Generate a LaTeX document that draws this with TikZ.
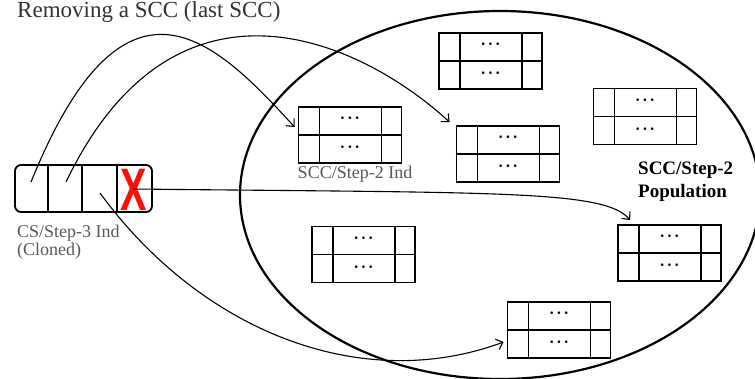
\documentclass[tikz,border=0pt]{standalone}
\usepackage{fontspec}
\setmainfont{Liberation Serif}
\newfontfamily\xfont{Liberation Sans}
\usetikzlibrary{calc,arrows.meta}
\newcommand\recbox[2]{%
  \node[rec] (#1) at (#2) {};
  \draw[divider] ([xshift=22pt]#1.north west) -- ([xshift=22pt]#1.south west);
  \draw[divider] ([xshift=-21pt]#1.north east) -- ([xshift=-21pt]#1.south east);
  \draw[divider] (#1.west) -- (#1.east);
  \node[dots] (#1-t) at ($(#1.north)!.5!(#1.center)$) {·\kern2pt·\kern2pt·};
  \node[dots] (#1-b) at ($(#1.south)!.5!(#1.center)$) {·\kern2pt·\kern2pt·};
}
\begin{document}
\begin{tikzpicture}[x=1pt,y=-1pt,
  rec/.style={draw, line width=1.8pt, minimum width=103pt, minimum height=56pt, inner sep=0pt},
  divider/.style={line width=1.6pt},
  dots/.style={font=\fontsize{16}{16}\selectfont\bfseries, inner sep=0pt},
  lbl/.style={font=\fontsize{18}{18}\selectfont, text=black!65, inner sep=0pt, anchor=base west},
  conn/.style={line width=1.1pt, -{Straight Barb[length=6pt,width=11pt,line width=1.1pt]}},
]
\useasboundingbox (0,0) rectangle (755,378);
\fill[white] (0,0) rectangle (755,378);

% title
\node[lbl, font=\fontsize{23}{23}\selectfont, text=black!80] (title) at (17,17) {Removing a SCC (last SCC)};

% population ellipse
\draw[line width=2.2pt] (500,195) ellipse [x radius=260pt, y radius=184pt];

% records
\recbox{A}{350,135}
\recbox{B}{508,154}
\recbox{C}{490.5,61}
\recbox{D}{645,116.5}
\recbox{E}{669.5,253}
\recbox{F}{363.5,254.5}
\recbox{G}{559,330}

\node[lbl, anchor=base] (alabel) at (355,178) {SCC/Step-2 Ind};
\node[lbl, anchor=base west, text=black, font=\fontsize{19}{19}\selectfont\bfseries] (pop1) at (638,174) {SCC/Step-2};
\node[lbl, anchor=base west, text=black, font=\fontsize{19}{19}\selectfont\bfseries] (pop2) at (638,197) {Population};

% cloned individual
\node[draw, line width=1.8pt, rounded corners=6pt, minimum width=137pt, minimum height=47pt, inner sep=0pt] (cs) at (83.5,188.5) {};
\draw[divider] ([xshift=34pt]cs.north west) -- ([xshift=34pt]cs.south west);
\draw[divider] ([xshift=68pt]cs.north west) -- ([xshift=68pt]cs.south west);
\draw[divider] ([xshift=103pt]cs.north west) -- ([xshift=103pt]cs.south west);
\node[inner sep=0pt, text=red!90!orange, font=\xfont\bfseries\fontsize{60}{60}\selectfont, xscale=0.66] (x) at (134,190) {X};
\coordinate (cs1) at (31,182);
\coordinate (cs2) at (66,182);
\coordinate (cs3) at (100,193);
\coordinate (cs4) at (133,189);

\node[lbl] (cslabel1) at (17,237) {CS/Step-3 Ind};
\node[lbl] (cslabel2) at (17,255) {(Cloned)};

% connectors
\draw[conn] (cs1) .. controls (125,-50) and (215,40) .. ([shift={(-3pt,8pt)}]A.west);
\draw[conn] (cs2) .. controls (175,-45) and (360,40) .. ([shift={(-6pt,3pt)}]B.north west);
\draw[conn] (cs3) .. controls (200,330) and (360,395) .. ([shift={(-3pt,-12pt)}]G.west);
\draw[conn] (cs4) .. controls (500,193) and (605,190) .. ([shift={(13pt,4pt)}]E.north west);
\end{tikzpicture}
\end{document}
